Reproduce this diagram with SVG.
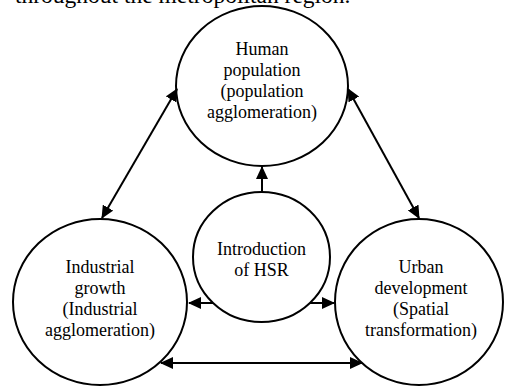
<svg xmlns="http://www.w3.org/2000/svg" width="509" height="387" viewBox="0 0 509 387">
<style>
.node{fill:#fff;stroke:#000;stroke-width:2}
.lbl{font-family:"Liberation Serif","Times New Roman",serif;font-size:18px;fill:#000;text-anchor:middle}
.conn{stroke:#000;stroke-width:2;fill:none}
.top{font-family:"Liberation Serif","Times New Roman",serif;font-size:23.5px;fill:#000}
</style>
<defs>
<marker id="ah" viewBox="0 0 13 12" refX="12" refY="6" markerWidth="13" markerHeight="12" markerUnits="userSpaceOnUse" orient="auto-start-reverse">
<path d="M0,0 L13,6 L0,12 z" fill="#000"/>
</marker>
</defs>
<rect width="509" height="387" fill="#fff"/>
<text class="top" x="15" y="3">throughout the metropolitan region.</text>
<g id="human">
<ellipse class="node" cx="262" cy="86" rx="86" ry="80"/>
<text class="lbl" x="262" y="55">Human</text>
<text class="lbl" x="262" y="76">population</text>
<text class="lbl" x="262" y="97">(population</text>
<text class="lbl" x="262" y="118">agglomeration)</text>
</g>
<g id="hsr">
<ellipse class="node" cx="261.5" cy="257" rx="68.5" ry="65"/>
<text class="lbl" x="261.5" y="255">Introduction</text>
<text class="lbl" x="261.5" y="276">of HSR</text>
</g>
<g id="industrial">
<ellipse class="node" cx="100" cy="302" rx="87" ry="83"/>
<text class="lbl" x="100" y="273">Industrial</text>
<text class="lbl" x="100" y="294">growth</text>
<text class="lbl" x="100" y="315">(Industrial</text>
<text class="lbl" x="100" y="336">agglomeration)</text>
</g>
<g id="urban">
<ellipse class="node" cx="419" cy="302" rx="84" ry="83"/>
<text class="lbl" x="421" y="273">Urban</text>
<text class="lbl" x="421" y="294">development</text>
<text class="lbl" x="421" y="315">(Spatial</text>
<text class="lbl" x="421" y="336">transformation)</text>
</g>
<g id="connectors">
<line class="conn" x1="262" y1="192" x2="262" y2="167" marker-end="url(#ah)"/>
<line class="conn" x1="213" y1="303" x2="189" y2="303" marker-end="url(#ah)"/>
<line class="conn" x1="310" y1="303" x2="334" y2="303" marker-end="url(#ah)"/>
<line class="conn" x1="161" y1="363" x2="362" y2="363" marker-start="url(#ah)" marker-end="url(#ah)"/>
<line class="conn" x1="177" y1="89" x2="102" y2="218" marker-start="url(#ah)" marker-end="url(#ah)"/>
<line class="conn" x1="348" y1="89" x2="419" y2="218" marker-start="url(#ah)" marker-end="url(#ah)"/>
</g>
</svg>
